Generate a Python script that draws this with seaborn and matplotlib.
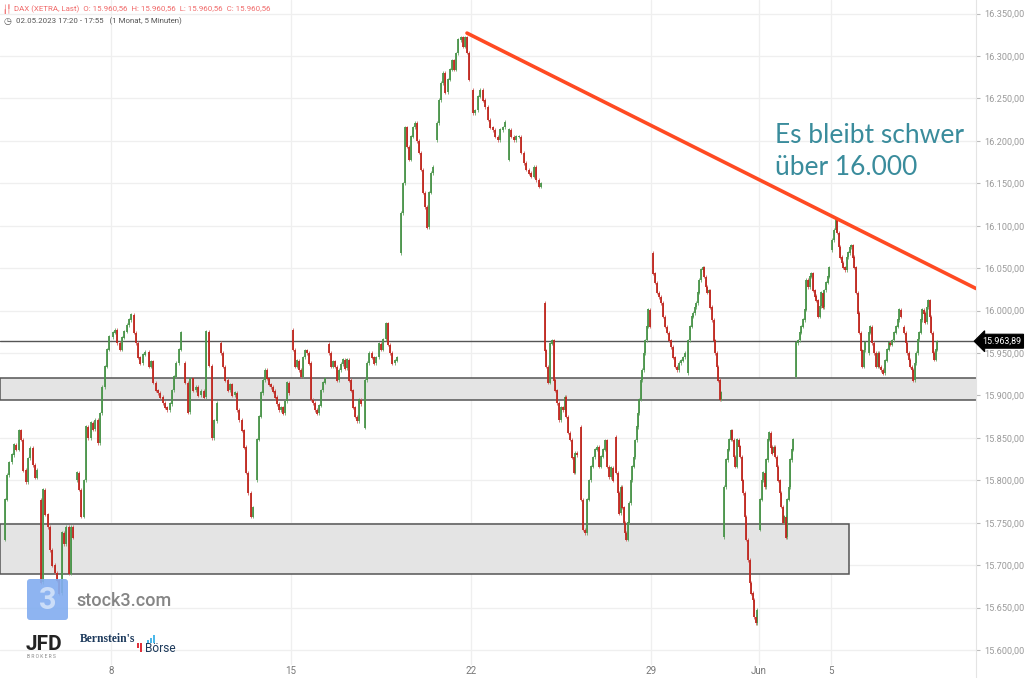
import matplotlib
matplotlib.use("Agg")
import matplotlib.pyplot as plt
from matplotlib.patches import Rectangle, FancyBboxPatch
import pandas as pd
import seaborn as sns

# thinned 5-minute price path per XETRA session
may03 = [15730, 15777, 15806, 15821, 15830, 15842, 15836, 15859, 15848, 15812, 15798, 15826, 15838, 15818, 15803, 15812]
may04 = [15777, 15680, 15789, 15760, 15745, 15718, 15700, 15691, 15682, 15667, 15738, 15725, 15745, 15690, 15745, 15733]
may05 = [15800, 15809, 15789, 15757, 15800, 15863, 15850, 15868, 15860, 15871, 15844, 15879, 15910, 15934, 15954, 15969]
may08 = [15969, 15974, 15977, 15962, 15954, 15968, 15975, 15983, 15989, 15995, 15974, 15962, 15945, 15938, 15948, 15951]
may09 = [15951, 15934, 15940, 15915, 15906, 15903, 15898, 15891, 15886, 15883, 15890, 15906, 15922, 15938, 15954, 15974]
may10 = [15938, 15915, 15880, 15920, 15906, 15910, 15900, 15905, 15898, 15975, 15935, 15850, 15870, 15891]
may11 = [15962, 15950, 15934, 15918, 15906, 15913, 15900, 15903, 15883, 15871, 15859, 15839, 15809, 15785, 15757, 15768]
may12 = [15800, 15848, 15875, 15903, 15918, 15930, 15920, 15913, 15910, 15905, 15898, 15890, 15883, 15886, 15879, 15893, 15915, 15903]
may15 = [15977, 15954, 15934, 15941, 15930, 15922, 15945, 15953, 15950, 15938, 15895, 15891, 15883, 15879, 15888, 15906, 15915, 15920]
may16 = [15961, 15950, 15934, 15940, 15934, 15918, 15930, 15937, 15942, 15932, 15942, 15918, 15906, 15886, 15875, 15870, 15895, 15890]
may17 = [15862, 15918, 15938, 15950, 15945, 15938, 15945, 15961, 15954, 15966, 15985, 15960, 15950, 15938, 15941, 15945]
may18 = [16068, 16115, 16150, 16216, 16193, 16178, 16205, 16216, 16221, 16200, 16186, 16166, 16139, 16122, 16098, 16139, 16162, 16169]
may19 = [16201, 16221, 16248, 16268, 16280, 16257, 16272, 16284, 16295, 16284, 16303, 16319, 16322, 16311, 16322, 16304, 16272]
may22 = [16260, 16233, 16236, 16252, 16260, 16248, 16240, 16225, 16216, 16213, 16205, 16201, 16213, 16216, 16222]
may23 = [16178, 16213, 16205, 16201, 16205, 16205, 16186, 16174, 16166, 16162, 16158, 16169, 16154, 16146, 16150]
may24 = [16009, 15953, 15934, 15915, 15961, 15965, 15918, 15906, 15891, 15871, 15886, 15883, 15898, 15875, 15856, 15848, 15827, 15809, 15832, 15830]
may25 = [15863, 15777, 15742, 15738, 15777, 15800, 15816, 15827, 15836, 15839, 15816, 15828, 15836, 15847, 15816, 15804, 15815, 15800]
may26 = [15851, 15809, 15785, 15761, 15792, 15768, 15750, 15738, 15730, 15750, 15773, 15800, 15816, 15827, 15847, 15863, 15879, 15895, 15918, 15930, 15950, 15965, 15981, 16001, 15981]
may29 = [16068, 16044, 16033, 16021, 16016, 16009, 15993, 15981, 15974, 15965, 15957, 15945, 15934, 15930, 15938, 15941, 15945, 15950]
may30 = [15926, 15965, 15981, 15993, 15997, 16004, 16009, 16021, 16036, 16048, 16051, 16040, 16028, 16021, 16024, 16004, 15989, 15965, 15950, 15934, 15918, 15895, 15903]
may31 = [15733, 15792, 15824, 15836, 15848, 15859, 15848, 15828, 15816, 15848, 15840, 15828, 15800, 15785, 15757, 15730, 15706, 15679, 15667, 15659, 15639, 15632, 15647]
jun01 = [15742, 15777, 15800, 15809, 15792, 15824, 15848, 15856, 15839, 15832, 15839, 15828, 15816, 15800, 15785, 15769, 15750, 15757, 15733, 15777, 15792, 15824, 15836, 15848]
jun02 = [15922, 15962, 15965, 15974, 15981, 15989, 16001, 16036, 16028, 16040, 16044, 16024, 16017, 16012, 15993, 16005, 16021, 16004, 16024, 16033, 16040, 16051]
jun05 = [16071, 16083, 16095, 16107, 16092, 16075, 16063, 16056, 16051, 16048, 16063, 16068, 16075, 16077, 16063, 16051, 16021, 15997, 15974, 15953, 15934, 15953, 15962]
jun06 = [15950, 15974, 15981, 15962, 15950, 15934, 15950, 15934, 15930, 15926, 15941, 15954, 15962, 15960, 15965, 15974, 15981, 15989, 16001, 15993]
jun07 = [15981, 15974, 15962, 15950, 15942, 15934, 15930, 15918, 15938, 15950, 15966, 15974, 15989, 16001, 15997, 15986, 16004, 16012, 15993, 15974, 15950, 15942, 15954, 15963.89]

sessions = [may03, may04, may05, may08, may09, may10, may11, may12, may15, may16,
            may17, may18, may19, may22, may23, may24, may25, may26, may29, may30,
            may31, jun01, jun02, jun05, jun06, jun07]

tick_days = [3, 8, 13, 18, 21, 23]
tick_labels = ["8", "15", "22", "29", "Jun", "5"]
price_ticks = [15600, 15650, 15700, 15750, 15800, 15850, 15900, 15950,
               16000, 16050, 16100, 16150, 16200, 16250, 16300, 16350]

last_price = 15963.89
zone_upper = [15895, 15921]
zone_lower = [15689, 15749]
zone_lower_end = 23.5
trend_days = [12.89, 27.03]
trend_prices = [16327, 16026]


def de_fmt(v):
    return f"{v:,.2f}".replace(",", "X").replace(".", ",").replace("X", ".")


rows = []
for d, closes in enumerate(sessions):
    n = len(closes) - 1
    for k in range(1, len(closes)):
        rows.append({"day": d + 0.02 + 0.96 * (k - 0.5) / n,
                     "open": closes[k - 1], "close": closes[k]})
df = pd.DataFrame(rows)
df["lo"] = df[["open", "close"]].min(axis=1)
df["hi"] = df[["open", "close"]].max(axis=1)
df["up"] = df["close"] >= df["open"]

sns.set_style("white")
plt.rcParams["font.family"] = ["Roboto", "DejaVu Sans"]

W, H = 1030, 678
fig = plt.figure(figsize=(W / 100, H / 100), dpi=100)
ax = fig.add_axes([0, 0, 976 / W, 1])
ax.set_xlim(-0.083, 27.03)
ax.set_ylim(15567, 16366)

# grid
for p in price_ticks:
    ax.axhline(p, color="#efefef", lw=0.9, zorder=0)
for t in tick_days:
    ax.axvline(t, ymin=0.02, ymax=1, color="#efefef", lw=0.9, zorder=0)

# support zones
ax.add_patch(Rectangle((-0.083, zone_upper[0]), 27.2, zone_upper[1] - zone_upper[0],
                       fc="#e4e4e4", ec="#555555", lw=1.1, zorder=1))
ax.add_patch(Rectangle((-0.083, zone_lower[0]), zone_lower_end + 0.083, zone_lower[1] - zone_lower[0],
                       fc="#e4e4e4", ec="#555555", lw=1.1, zorder=1))

# candles (bodies plus short wicks)
up = df[df["up"]]
dn = df[~df["up"]]
ax.vlines(up["day"], up["lo"] - 2, up["hi"] + 2, color="#6aa86a", lw=0.6, zorder=3)
ax.vlines(dn["day"], dn["lo"] - 2, dn["hi"] + 2, color="#d06060", lw=0.6, zorder=3)
ax.vlines(up["day"], up["lo"], up["hi"] + 0.5, color="#4a944a", lw=1.3, zorder=3)
ax.vlines(dn["day"], dn["lo"] - 0.5, dn["hi"], color="#bf261e", lw=1.3, zorder=3)

# last price line
ax.axhline(last_price, color="#555555", lw=1.0, zorder=2)

# trend line
sns.lineplot(x=trend_days, y=trend_prices, ax=ax, color="#ff4a22", lw=2.6, zorder=4)

# axes styling
for s in ["top", "left", "bottom"]:
    ax.spines[s].set_visible(False)
ax.spines["right"].set_color("#e4e4e4")
ax.yaxis.tick_right()
ax.set_yticks(price_ticks, [de_fmt(p) for p in price_ticks])
ax.tick_params(axis="y", direction="out", length=3, pad=3, width=0.8,
               color="#bbbbbb", labelsize=6.6, labelcolor="#9a9a9a")
ax.set_xticks(tick_days, tick_labels)
ax.tick_params(axis="x", direction="in", length=3, pad=-8.6, width=0.8,
               color="#888888", labelsize=7, labelcolor="#777777")
ax.set_xlabel("")
ax.set_ylabel("")

ax.text(1.006, last_price, de_fmt(last_price), transform=ax.get_yaxis_transform(),
        ha="left", va="center", color="white", fontsize=6.4, clip_on=False, zorder=6,
        bbox=dict(boxstyle="larrow,pad=0.28", fc="black", ec="black", lw=0.8))

# annotation
teal = "#3a8c9c"
fig.text(775 / W, 1 - 143 / H, "Es bleibt schwer", family=["Lato", "DejaVu Sans"],
         fontsize=19, color=teal, va="baseline")
fig.text(775 / W, 1 - 175 / H, "über 16.000", family=["Lato", "DejaVu Sans"],
         fontsize=19, color=teal, va="baseline")

# overlay for header and watermarks in pixel space
ov = fig.add_axes([0, 0, 1, 1], zorder=10)
ov.set_xlim(0, W)
ov.set_ylim(H, 0)
ov.axis("off")

red_hdr = "#f06a6a"
ov.text(2, 9.5, "╽╿", color=red_hdr, fontsize=5.5, va="center", family="DejaVu Sans")
ov.text(14, 9.5, "DAX (XETRA, Last)  O: 15.960,56  H: 15.960,56  L: 15.960,56  C: 15.960,56",
        color=red_hdr, fontsize=5.7, va="center")
ov.text(3, 21.5, "◷", color="#555555", fontsize=6.5, va="center", family="DejaVu Sans")
ov.text(16, 21.5, "02.05.2023 17:20 - 17:55   (1 Monat, 5 Minuten)",
        color="#555555", fontsize=5.7, va="center")

# stock3 watermark
ov.add_patch(FancyBboxPatch((27, 579), 41, 41, boxstyle="round,pad=0,rounding_size=3",
                            fc="#84aef0", ec="none", alpha=0.92))
ov.text(47.5, 600, "3", color="white", alpha=0.55, fontsize=22, fontweight="bold",
        ha="center", va="center")
ov.text(76, 601, "stock3.com", color="#858585", fontsize=13, fontweight="medium", va="center")

# JFD / Bernstein logos
ov.text(26, 644, "JFD", color="#232323", fontsize=15, fontweight="bold", va="center")
ov.text(27, 656, "B R O K E R S", color="#8a8a8a", fontsize=3.6, va="center")
ov.text(80, 639, "Bernstein's", color="#1d3a5c", fontsize=8.4, fontweight="bold",
        family="Liberation Serif", va="center")
for i, h in enumerate([3, 5, 8]):
    ov.add_patch(Rectangle((147 + i * 3, 643 - h), 1.8, h, fc="#4cb8ea", ec="none"))
ov.add_patch(Rectangle((137, 643), 1.8, 5, fc="#e0303a", ec="none"))
ov.add_patch(Rectangle((140, 643), 1.8, 9, fc="#e0303a", ec="none"))
ov.text(145, 649, "Börse", color="#1d3a5c", fontsize=8.6, va="center")

fig.savefig("out.png", dpi=100)
